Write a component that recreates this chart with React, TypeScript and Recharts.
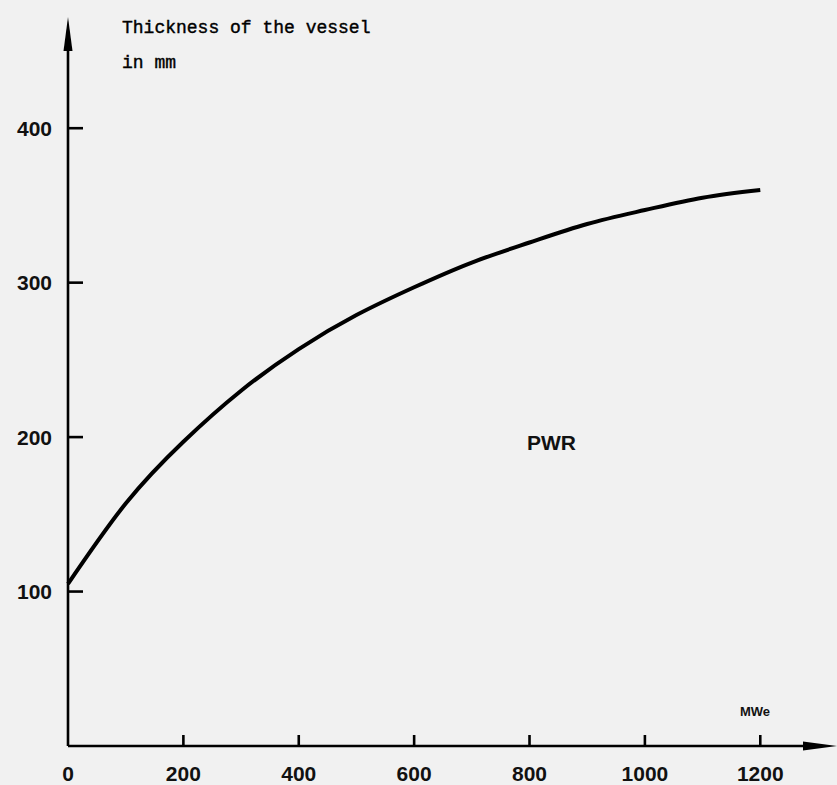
import { LineChart, Line, XAxis, YAxis, ReferenceLine } from 'recharts'

// reactor power (MWe) and vessel wall thickness (mm)
const mwe = [0, 100, 200, 300, 400, 500, 600, 700, 800, 900, 1000, 1100, 1200]
const thickness = [105, 157, 197, 230, 257, 279, 297, 313, 326, 338, 347, 355, 360]

const xTicks = [0, 200, 400, 600, 800, 1000, 1200]
const yTicks = [100, 200, 300, 400]

// the axes run a bit past the last tick, ending in arrows
const xMax = 1333
const yMax = 472

const data = mwe.map((m, i) => ({ mwe: m, thickness: thickness[i] }))

const W = 837
const H = 785
const labelFont = '"Liberation Sans", Arial, sans-serif'
const monoFont = '"Liberation Mono", "DejaVu Sans Mono", monospace'

// axis line with a long narrow arrow head at its end
const ArrowAxis = (props: any) => {
  const { x1, y1, x2, y2 } = props
  const len = 34
  const half = 4.5
  const dx = x2 - x1
  const dy = y2 - y1
  const d = Math.sqrt(dx * dx + dy * dy) || 1
  const ux = dx / d
  const uy = dy / d
  const bx = x2 - ux * len
  const by = y2 - uy * len
  const pts = `${x2},${y2} ${bx - uy * half},${by + ux * half} ${bx + uy * half},${by - ux * half}`
  return (
    <g>
      <line x1={x1} y1={y1} x2={bx} y2={by} stroke="#000" strokeWidth={2.6} />
      <polygon points={pts} fill="#000" />
    </g>
  )
}

const YTick = (props: any) => {
  const { x, y, payload } = props
  const axisX = x + 16
  return (
    <g>
      <line x1={axisX} y1={y} x2={axisX + 15} y2={y} stroke="#000" strokeWidth={2.6} />
      <text x={x} y={y} dy="0.36em" textAnchor="end" fontFamily={labelFont} fontWeight={700} fontSize={21} fill="#111">
        {payload.value}
      </text>
    </g>
  )
}

const XTick = (props: any) => {
  const { x, y, payload } = props
  const axisY = y - 8
  return (
    <g>
      {payload.value !== 0 && <line x1={x} y1={axisY} x2={x} y2={axisY - 11} stroke="#000" strokeWidth={2.6} />}
      <text x={x} y={axisY + 35} textAnchor="middle" fontFamily={labelFont} fontWeight={700} fontSize={21} fill="#111">
        {payload.value}
      </text>
    </g>
  )
}

export default function App() {
  return (
    <div style={{ position: 'absolute', left: 0, top: 0, width: W, height: H, background: '#f1f1f1' }}>
      <LineChart width={W} height={H} data={data} margin={{ top: 17, right: 0, bottom: 0, left: 0 }}>
        <XAxis
          dataKey="mwe"
          type="number"
          domain={[0, xMax]}
          ticks={xTicks}
          axisLine={false}
          tickLine={false}
          tickSize={0}
          tickMargin={8}
          height={39}
          tick={<XTick />}
        />
        <YAxis
          type="number"
          domain={[0, yMax]}
          ticks={yTicks}
          axisLine={false}
          tickLine={false}
          tickSize={0}
          tickMargin={16}
          width={68}
          tick={<YTick />}
        />
        <ReferenceLine segment={[{ x: 0, y: 0 }, { x: xMax, y: 0 }]} shape={ArrowAxis} ifOverflow="visible" />
        <ReferenceLine segment={[{ x: 0, y: 0 }, { x: 0, y: yMax }]} shape={ArrowAxis} ifOverflow="visible" />
        <Line
          type="natural"
          dataKey="thickness"
          stroke="#000"
          strokeWidth={4}
          dot={false}
          isAnimationActive={false}
        />
      </LineChart>
      <svg width={W} height={H} style={{ position: 'absolute', left: 0, top: 0, pointerEvents: 'none' }}>
        <text x={122} y={33} fontFamily={monoFont} fontSize={18} fill="#000" stroke="#000" strokeWidth={0.4}>
          Thickness of the vessel
        </text>
        <text x={122} y={68} fontFamily={monoFont} fontSize={18} fill="#000" stroke="#000" strokeWidth={0.4}>
          in mm
        </text>
        <text x={740} y={716} fontFamily={labelFont} fontWeight={700} fontSize={13} fill="#111">
          MWe
        </text>
        <text x={527} y={450} fontFamily={labelFont} fontWeight={700} fontSize={21} fill="#111">
          PWR
        </text>
      </svg>
    </div>
  )
}
